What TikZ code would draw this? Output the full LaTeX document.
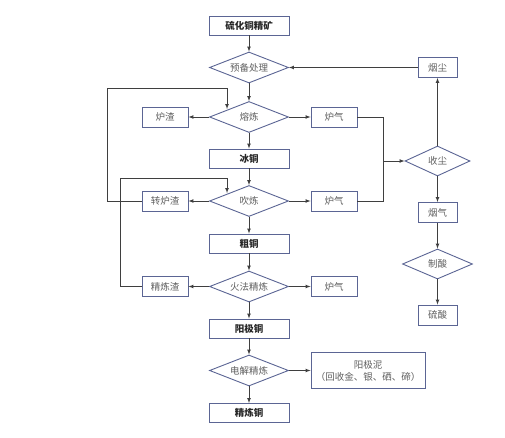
\documentclass[tikz,border=0pt]{standalone}
\usepackage{fontspec}
\setmainfont{Noto Sans CJK SC}
\usetikzlibrary{shapes.geometric,arrows}

\definecolor{edge}{HTML}{5B6594}
\definecolor{wire}{HTML}{3F3F3F}
\definecolor{ink}{HTML}{262626}
\definecolor{soft}{HTML}{606060}

\tikzstyle{b} = [rectangle, draw=edge, fill=white, line width=0.9pt, text=ink, font=\fontsize{9.5}{12}\selectfont\bfseries, minimum width=80pt, minimum height=19pt, inner sep=1pt]
\tikzstyle{s} = [rectangle, draw=edge, fill=white, line width=0.9pt, text=soft, font=\fontsize{9.5}{12}\selectfont, minimum width=46pt, minimum height=20pt, inner sep=1pt]
\tikzstyle{r} = [s, minimum width=39pt]
\tikzstyle{d} = [diamond, aspect=2.5, draw=edge, fill=white, line width=0.9pt, text=soft, font=\fontsize{9.5}{12}\selectfont, minimum width=79pt, minimum height=31pt, inner sep=0pt]

\begin{document}
\begin{tikzpicture}[x=1pt, y=-1pt, >=latex, draw=wire, line width=0.7pt]
\useasboundingbox (0,0) rectangle (505,438);
% main line
\node [b] (ore) at (249,25.5) {硫化铜精矿};
\node [d, below of=ore, node distance=42pt] (pre) {预备处理};
\node [d, below of=pre, node distance=49.5pt] (smelt) {熔炼};
\node [b, below of=smelt, node distance=41.5pt] (matte) {冰铜};
\node [d, below of=matte, node distance=42.5pt] (blow) {吹炼};
\node [b, below of=blow, node distance=42.5pt] (crude) {粗铜};
\node [d, below of=crude, node distance=43pt] (fire) {火法精炼};
\node [b, below of=fire, node distance=42pt] (anode) {阳极铜};
\node [d, below of=anode, node distance=42pt] (elec) {电解精炼};
\node [b, below of=elec, node distance=42.5pt] (fine) {精炼铜};
% side products
\node [s, left of=smelt, node distance=84pt] (slaga) {炉渣};
\node [s, right of=smelt, node distance=85pt] (gasa) {炉气};
\node [s, left of=blow, node distance=84pt] (slagb) {转炉渣};
\node [s, right of=blow, node distance=85pt] (gasb) {炉气};
\node [s, left of=fire, node distance=84pt] (slagc) {精炼渣};
\node [s, right of=fire, node distance=85pt] (gasc) {炉气};
\node [s, right of=elec, node distance=119pt, minimum width=114pt, minimum height=36pt, align=center] (mud) {阳极泥\\（回收金、银、硒、碲）};
% gas line
\node [r, right of=pre, node distance=188.5pt] (dust) {烟尘};
\node [d, below of=dust, node distance=93.5pt, minimum width=65pt, minimum height=30pt] (coll) {收尘};
\node [r, below of=coll, node distance=51.5pt] (fume) {烟气};
\node [d, below of=fume, node distance=51.5pt, minimum width=70pt, minimum height=30pt] (acid) {制酸};
\node [r, below of=acid, node distance=51pt] (sulf) {硫酸};
\coordinate (jn) at (383,161);
\coordinate (ca) at (107,88);
\coordinate (cb) at (120,178);

\draw [->] (ore) -- (pre);
\draw [->] (pre) -- (smelt);
\draw [->] (smelt) -- (matte);
\draw [->] (matte) -- (blow);
\draw [->] (blow) -- (crude);
\draw [->] (crude) -- (fire);
\draw [->] (fire) -- (anode);
\draw [->] (anode) -- (elec);
\draw [->] (elec) -- (fine);
\draw [->] (smelt) -- (slaga);
\draw [->] (smelt) -- (gasa);
\draw [->] (blow) -- (slagb);
\draw [->] (blow) -- (gasb);
\draw [->] (fire) -- (slagc);
\draw [->] (fire) -- (gasc);
\draw [->] (elec) -- (mud);
\draw (gasa.east) -| (jn);
\draw (gasb.east) -| (jn);
\draw [->] (jn) -- (coll);
\draw [->] (coll) -- (dust);
\draw [->] (dust) -- (pre);
\draw [->] (coll) -- (fume);
\draw [->] (fume) -- (acid);
\draw [->] (acid) -- (sulf);
\draw [->] (slagb.west) -| (ca) -| ([xshift=-2pt]smelt.north west);
\draw [->] (slagc.west) -| (cb) -| ([xshift=-2pt]blow.north west);
\end{tikzpicture}
\end{document}
